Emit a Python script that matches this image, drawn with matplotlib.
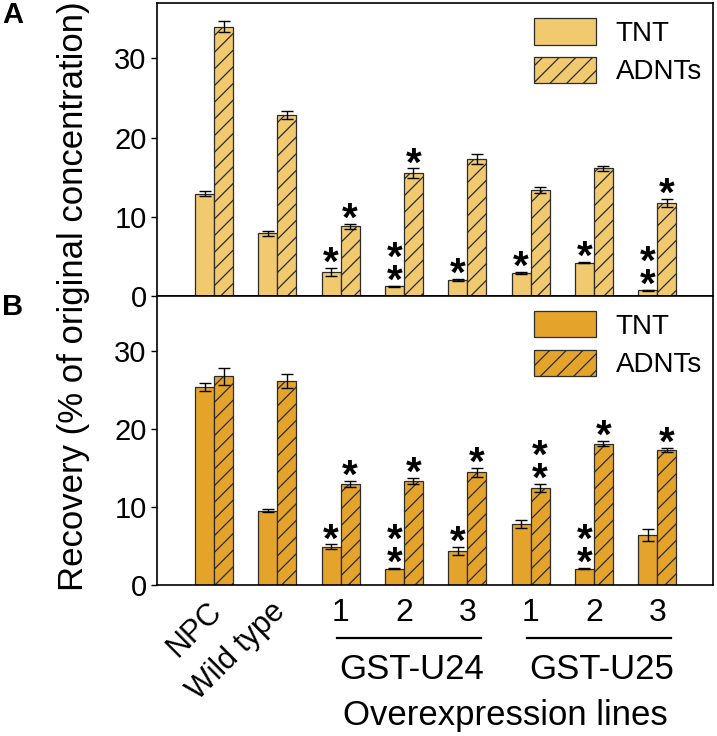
import numpy as np
import matplotlib
matplotlib.use('Agg')
import matplotlib.pyplot as plt
import matplotlib.transforms as mtransforms

plt.rcParams['font.family'] = ['Liberation Sans', 'DejaVu Sans']
plt.rcParams['hatch.linewidth'] = 0.9

groups = ['NPC', 'Wild type', 'U24-1', 'U24-2', 'U24-3', 'U25-1', 'U25-2', 'U25-3']

# panel A
tnt_a = [12.9, 7.9, 3.0, 1.2, 2.0, 2.9, 4.2, 0.7]
tnt_a_err = [0.3, 0.3, 0.5, 0.1, 0.1, 0.1, 0.1, 0.1]
adnt_a = [34.0, 22.8, 8.8, 15.5, 17.3, 13.4, 16.1, 11.7]
adnt_a_err = [0.7, 0.5, 0.3, 0.6, 0.6, 0.4, 0.3, 0.5]
tnt_a_stars = [0, 0, 1, 2, 1, 1, 1, 2]
adnt_a_stars = [0, 0, 1, 1, 0, 0, 0, 1]

# panel B
tnt_b = [25.3, 9.5, 4.9, 2.1, 4.4, 7.8, 2.1, 6.4]
tnt_b_err = [0.5, 0.2, 0.3, 0.1, 0.5, 0.5, 0.1, 0.8]
adnt_b = [26.7, 26.1, 12.9, 13.3, 14.4, 12.4, 18.1, 17.3]
adnt_b_err = [1.1, 0.9, 0.4, 0.35, 0.6, 0.5, 0.3, 0.25]
tnt_b_stars = [0, 0, 1, 2, 1, 0, 2, 0]
adnt_b_stars = [0, 0, 1, 1, 1, 2, 1, 1]

tick_labels = ['NPC', 'Wild type', '1', '2', '3', '1', '2', '3']
line_groups = ['GST-U24', 'GST-U25']

fig = plt.figure(figsize=(7.17, 7.36), dpi=100)
ax_a = fig.add_axes([0.219, 0.598, 0.7754, 0.398])
ax_b = fig.add_axes([0.219, 0.2052, 0.7754, 0.3928])

x = np.arange(len(groups))
w = 0.3
edge = '#2b2b2b'


def draw_panel(ax, tnt, tnt_err, adnt, adnt_err, tnt_st, adnt_st, color):
    ax.bar(x - w / 2, tnt, w, color=color, edgecolor=edge, linewidth=0.9,
           yerr=tnt_err, capsize=4, error_kw=dict(elinewidth=1, capthick=1, ecolor='black'),
           label='TNT')
    ax.bar(x + w / 2, adnt, w, color=color, edgecolor=edge, linewidth=0.9, hatch='//',
           yerr=adnt_err, capsize=4, error_kw=dict(elinewidth=1, capthick=1, ecolor='black'),
           label='ADNTs')
    for xs, vals, errs, stars in [(x - w / 2, tnt, tnt_err, tnt_st),
                                  (x + w / 2, adnt, adnt_err, adnt_st)]:
        for xi, v, e, n in zip(xs, vals, errs, stars):
            if n == 0:
                continue
            # stacked asterisks as one text
            ax.annotate('\n'.join(['*'] * n), (xi, v + e), xytext=(0, -5),
                        textcoords='offset points', ha='center', va='baseline',
                        fontsize=29, fontweight='bold', linespacing=0.5,
                        multialignment='center')
    ax.set_xlim(-0.9, 7.88)
    ax.set_ylim(0, 37)
    ax.set_yticks([0, 10, 20, 30])
    ax.tick_params(axis='y', labelsize=21, length=4, direction='out', width=1)
    ax.tick_params(axis='x', length=0)
    for s in ax.spines.values():
        s.set_linewidth(1.2)
    ax.legend(loc='upper right', fontsize=20, frameon=False, handlelength=2.25,
              handleheight=1.07, handletextpad=0.7, labelspacing=0.35,
              borderpad=0.1, borderaxespad=0.3, bbox_to_anchor=(1.0, 0.985))


draw_panel(ax_a, tnt_a, tnt_a_err, adnt_a, adnt_a_err, tnt_a_stars, adnt_a_stars, '#F1C96F')
draw_panel(ax_b, tnt_b, tnt_b_err, adnt_b, adnt_b_err, tnt_b_stars, adnt_b_stars, '#E4A42C')

ax_a.set_xticks([])
ax_b.set_xticks(x[:2])
ax_b.set_xticklabels(tick_labels[:2], rotation=45, ha='right', va='center',
                     rotation_mode='anchor', fontsize=22)
ax_b.tick_params(axis='x', pad=16)
offset = mtransforms.ScaledTranslation(0.03, 0, fig.dpi_scale_trans)
for lab in ax_b.get_xticklabels():
    lab.set_transform(lab.get_transform() + offset)

trans = mtransforms.blended_transform_factory(ax_b.transData, fig.transFigure)
for xi, t in zip(x[2:], tick_labels[2:]):
    fig.text(xi, 0.1671, t, transform=trans, ha='center', va='center', fontsize=23)
for k, name in enumerate(line_groups):
    first, last = x[2 + 3 * k], x[4 + 3 * k]
    fig.add_artist(plt.Line2D([first - 0.06, last + 0.22], [0.1332, 0.1332],
                              transform=trans, color='black', linewidth=1.6))
    fig.text((first + last) / 2 + 0.12, 0.0897, name, transform=trans, ha='center',
             va='center', fontsize=25)
fig.text((x[2] + x[7]) / 2 + 0.1, 0.0285, 'Overexpression lines', transform=trans,
         ha='center', va='center', fontsize=25)

fig.text(0.102, 0.597, 'Recovery (% of original concentration)', rotation=90,
         ha='center', va='center', fontsize=25)
fig.text(0.003, 0.998, 'A', fontsize=21, fontweight='bold', ha='left', va='top')
fig.text(0.003, 0.602, 'B', fontsize=21, fontweight='bold', ha='left', va='top')

fig.savefig('out.png', dpi=100)
